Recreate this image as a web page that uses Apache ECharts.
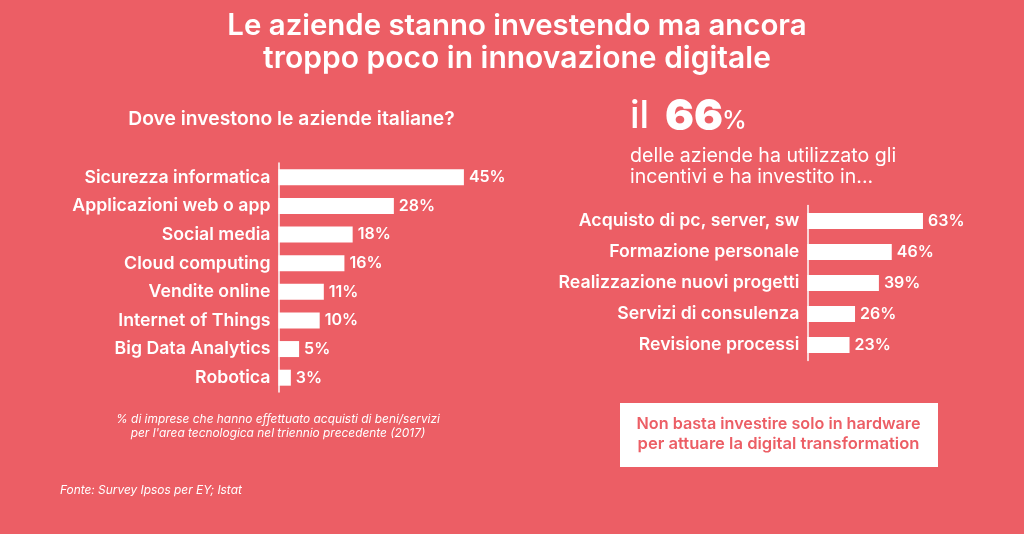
<!DOCTYPE html>
<html>
<head>
<meta charset="utf-8">
<style>html,body{margin:0;padding:0;background:#ec5e65}#main{width:1024px;height:534px}</style>
<script src="https://cdn.jsdelivr.net/npm/echarts@6/dist/echarts.min.js"></script>
</head>
<body>
<div id="main"></div>
<script>
// dove investono le aziende italiane
const leftCategories = ['Sicurezza informatica','Applicazioni web o app','Social media','Cloud computing','Vendite online','Internet of Things','Big Data Analytics','Robotica'];
const leftValues = [45,28,18,16,11,10,5,3];
// il 66% ... ha investito in
const rightCategories = ['Acquisto di pc, server, sw','Formazione personale','Realizzazione nuovi progetti','Servizi di consulenza','Revisione processi'];
const rightValues = [63,46,39,26,23];

const BG = '#ec5e65';
const FONT = 'Inter';

function text(x,y,str,size,weight,align,style,color){
	return {type:'text',x:x,y:y,style:{text:str,fontFamily:FONT,fontSize:size,fontWeight:weight,fontStyle:style||'normal',
		fill:color||'#fff',align:align||'left',verticalAlign:'middle'}};
}

function barSeries(values,axisIdx){
	return {
		type:'bar',xAxisIndex:axisIdx,yAxisIndex:axisIdx,data:values,barWidth:16,
		itemStyle:{color:'#fff'},
		label:{show:true,position:'right',distance:5,color:'#fff',fontFamily:FONT,fontSize:16,fontWeight:600,formatter:'{c}%'},
		silent:true
	};
}
function catAxis(cats,idx){
	return {type:'category',gridIndex:idx,data:cats,inverse:true,
		axisLine:{show:true,lineStyle:{color:'#fff',width:1.5}},axisTick:{show:false},
		axisLabel:{color:'#fff',fontFamily:FONT,fontSize:17.7,fontWeight:600,margin:8,interval:0}};
}

let myChart = echarts.init(document.getElementById('main'));
myChart.setOption({
	animation:false,
	backgroundColor:BG,
	grid:[
		{left:278.5,top:163,width:206,height:229},
		{left:807.3,top:205.5,width:183.6,height:155}
	],
	xAxis:[
		{type:'value',gridIndex:0,min:0,max:50,show:false},
		{type:'value',gridIndex:1,min:0,max:100,show:false}
	],
	yAxis:[catAxis(leftCategories,0),catAxis(rightCategories,1)],
	series:[barSeries(leftValues,0),barSeries(rightValues,1)],
	graphic:[
		text(517,26,'Le aziende stanno investendo ma ancora',29.4,600,'center'),
		text(517,59,'troppo poco in innovazione digitale',30,600,'center'),
		text(291.5,119,'Dove investono le aziende italiane?',19.3,600,'center'),
		text(630,117,'il',38,500),
		text(665,117,'66',43,900),
		text(722,121,'%',25,500),
		text(630,156,'delle aziende ha utilizzato gli',19.6,400),
		text(630,177,'incentivi e ha investito in...',19.5,400),
		text(278,419,'% di imprese che hanno effettuato acquisti di beni/servizi',11.9,400,'center','italic'),
		text(278,433,"per l'area tecnologica nel triennio precedente (2017)",11.9,400,'center','italic'),
		text(60,490,'Fonte: Survey Ipsos per EY; Istat',11.9,400,'left','italic'),
		{type:'rect',shape:{x:620,y:403,width:318,height:64},style:{fill:'#fff'}},
		text(778.5,424,'Non basta investire solo in hardware',16.2,600,'center','normal',BG),
		text(778.5,444,'per attuare la digital transformation',16.6,600,'center','normal',BG)
	]
});
</script>
</body>
</html>
